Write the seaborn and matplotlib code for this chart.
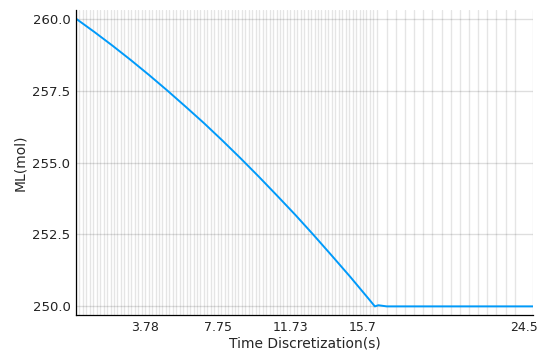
import numpy as np
import pandas as pd
import matplotlib
matplotlib.use("Agg")
import matplotlib.pyplot as plt
import seaborn as sns

# Liquid holdup over time
time_s = [0.0, 1.0, 2.0, 3.0, 4.0, 5.0, 6.0, 7.0, 8.0, 9.0, 10.0, 11.0, 12.0,
          13.0, 14.0, 15.0, 16.0, 16.35, 16.54, 17.0, 17.5, 18.0, 19.0, 20.0,
          21.0, 22.0, 23.0, 24.0, 25.0]
ml_mol = [260.00, 259.54, 259.06, 258.56, 258.04, 257.50, 256.94, 256.37,
          255.77, 255.15, 254.51, 253.85, 253.18, 252.48, 251.76, 251.03,
          250.27, 250.00, 250.04, 250.00, 250.00, 250.00, 250.00, 250.00,
          250.00, 250.00, 250.00, 250.00, 250.00]

# Solver time grid: fine steps until the holdup settles, then coarse steps
fine_step = 0.18916
fine_count = 88
coarse_start, coarse_step, coarse_end = 17.0, 0.5, 25.0
grid_times = np.concatenate([
    np.arange(fine_count) * fine_step,
    np.arange(coarse_start, coarse_end + 1e-9, coarse_step),
])

x_tick_pos = [3.78, 7.75, 11.73, 15.7, 24.5]
x_tick_labels = ["3.78", "7.75", "11.73", "15.7", "24.5"]
y_ticks = [250.0, 252.5, 255.0, 257.5, 260.0]
y_tick_labels = ["250.0", "252.5", "255.0", "257.5", "260.0"]

df = pd.DataFrame({"t": time_s, "ML": ml_mol})

sns.set_style("white")
plt.rcParams["font.family"] = ["DejaVu Sans"]

fig = plt.figure(figsize=(5.37, 3.53), dpi=100)
ax = fig.add_axes([0.1415, 0.1076, 0.851, 0.864])

sns.lineplot(data=df, x="t", y="ML", ax=ax, color="#009AFA", linewidth=1.4)

ax.set_xlim(0, 25)
ax.set_ylim(249.7, 260.3)

ax.set_xticks(grid_times, minor=True)
ax.set_xticks(x_tick_pos)
ax.set_xticklabels(x_tick_labels)
ax.set_yticks(y_ticks)
ax.set_yticklabels(y_tick_labels)

ax.grid(True, which="minor", axis="x", color="black", alpha=0.1, linewidth=1.0)
ax.grid(False, which="major", axis="x")
ax.grid(True, which="major", axis="y", color="black", alpha=0.13, linewidth=1.0)
ax.set_axisbelow(True)

ax.tick_params(axis="both", which="both", direction="in", length=3.5,
               width=0.7, color="black", labelsize=9.5, pad=4,
               labelcolor="#222222")
ax.tick_params(axis="x", which="major", labelsize=9.0, length=0)
ax.tick_params(axis="x", which="minor", length=3.5)

for side in ("top", "right"):
    ax.spines[side].set_visible(False)
for side in ("left", "bottom"):
    ax.spines[side].set_color("black")
    ax.spines[side].set_linewidth(0.9)

ax.set_xlabel("Time Discretization(s)", fontsize=10, labelpad=2)
ax.set_ylabel("ML(mol)", fontsize=10, labelpad=4)

fig.savefig("out.png", dpi=100)
